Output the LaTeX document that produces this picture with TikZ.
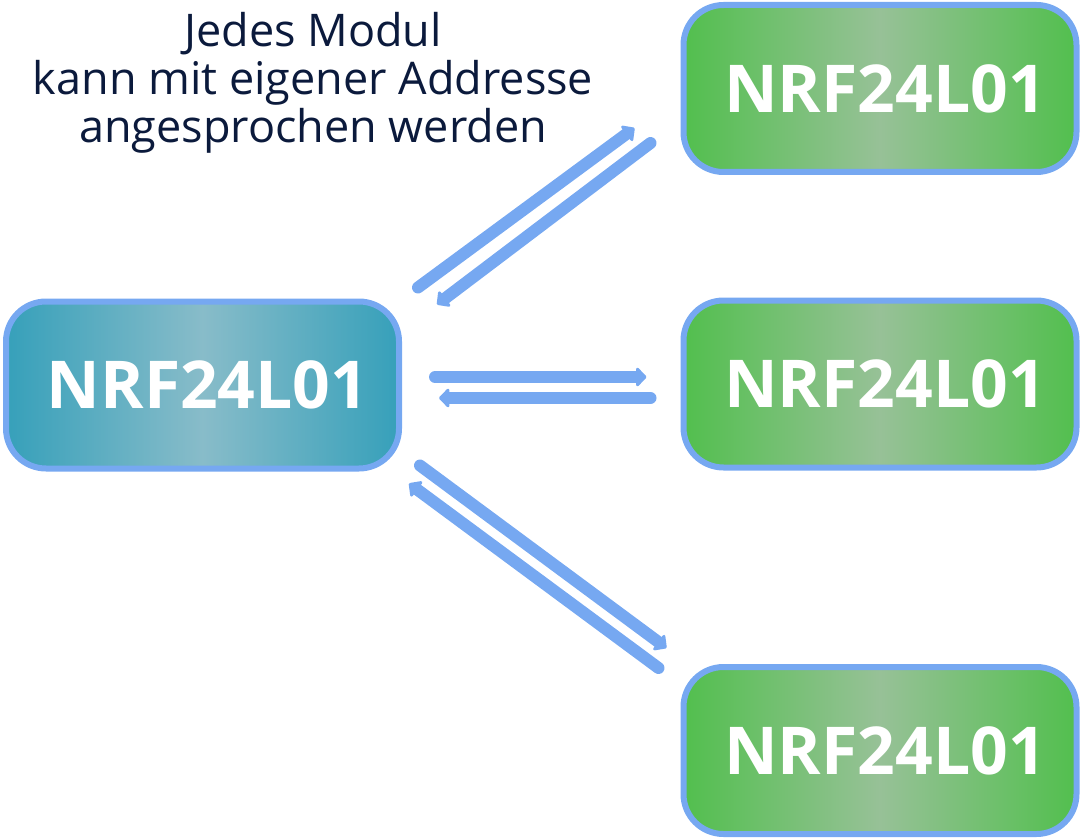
\documentclass[tikz,border=0pt]{standalone}
\usepackage{fontspec}
\setmainfont{Open Sans}
\usepackage{xcolor}
\usepackage{tikz}
\usetikzlibrary{calc,arrows.meta,positioning}
\definecolor{rim}{HTML}{76A8F1}
\definecolor{tealedge}{HTML}{36A0BA}
\definecolor{tealmid}{HTML}{88BCC9}
\definecolor{greenedge}{HTML}{52BF4E}
\definecolor{greenmid}{HTML}{97C197}
\definecolor{navy}{HTML}{0B1A3C}
\tikzstyle{module} = [rectangle, draw=rim, line width=6pt, rounded corners=40pt, minimum width=393pt, minimum height=167pt, text=white, font=\bfseries\fontsize{66}{66}\selectfont, inner sep=0pt]
\tikzstyle{master} = [module, left color=tealedge, right color=tealedge, middle color=tealmid]
\tikzstyle{slave} = [module, left color=greenedge, right color=greenedge, middle color=greenmid]
\tikzstyle{link} = [draw=rim, line width=12pt, line cap=round, -{Triangle[width=22pt,length=11pt,round]}]

\begin{document}
\begin{tikzpicture}[x=1pt,y=-1pt]
\useasboundingbox (0,0) rectangle (1082,840);
\node [master] (base) at (202.5,385) {\hspace{10pt}NRF24L01};
\node [slave] (modA) at (880,88.5) {\hspace{10pt}NRF24L01};
\node [slave] (modB) at (880,384) {\hspace{10pt}NRF24L01};
\node [slave] (modC) at (880,750.5) {\hspace{10pt}NRF24L01};

\node [text=navy, align=center, font=\fontsize{45}{48}\selectfont] (note) at (313,83) {Jedes Modul\\kann mit eigener Addresse\\angesprochen werden};

% upper pair
\path [link] ($(base.north east)+(16,-11)$) -- ($(modA.south west)+(-46,-47)$);
\path [link] ($(modA.south west)+(-30,-32)$) -- ($(base.north east)+(35,6)$);
% middle pair
\path [link] ($(base.east)+(33,-8)$) -- ($(modB.west)+(-34,-7)$);
\path [link] ($(modB.west)+(-30,14)$) -- ($(base.east)+(37,13)$);
% lower pair
\path [link] ($(base.south east)+(18,-6)$) -- ($(modC.north west)+(-14,-16)$);
\path [link] ($(modC.north west)+(-22,4)$) -- ($(base.south east)+(7,12)$);

\end{tikzpicture}
\end{document}
